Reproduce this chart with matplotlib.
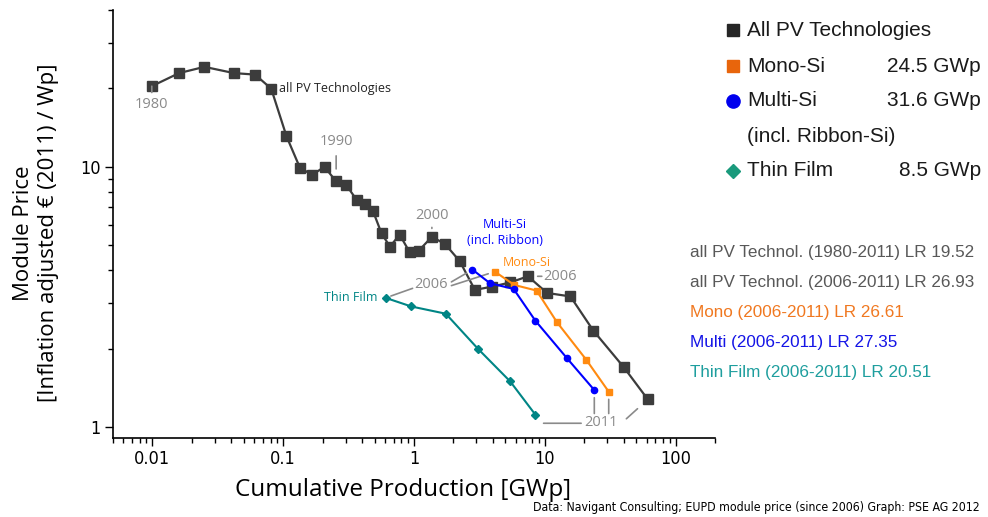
import matplotlib
matplotlib.use("Agg")
import matplotlib.pyplot as plt
from matplotlib.lines import Line2D
from matplotlib.ticker import LogLocator, FuncFormatter, NullFormatter

# cumulative production [GWp] and module price [EUR(2011)/Wp]
all_years = list(range(1980, 2012))
all_prod = [0.0099, 0.016, 0.025, 0.042, 0.061, 0.081, 0.106, 0.134, 0.166, 0.207,
            0.254, 0.303, 0.364, 0.421, 0.486, 0.565, 0.655, 0.777, 0.927, 1.09,
            1.37, 1.73, 2.24, 2.92, 3.98, 5.45, 7.43, 10.4, 15.7, 23.5, 40.2, 61.3]
all_price = [20.4, 22.9, 24.2, 22.9, 22.6, 19.95, 13.1, 9.94, 9.31, 10.0,
             8.79, 8.53, 7.47, 7.17, 6.76, 5.55, 4.94, 5.49, 4.70, 4.77,
             5.39, 5.05, 4.34, 3.37, 3.47, 3.60, 3.80, 3.28, 3.18, 2.35, 1.70, 1.28]

mono_prod = [4.15, 5.84, 8.65, 12.4, 20.7, 30.8]
mono_price = [3.96, 3.52, 3.35, 2.53, 1.82, 1.37]

multi_prod = [2.80, 3.82, 5.77, 8.45, 14.8, 23.9]
multi_price = [4.03, 3.57, 3.40, 2.57, 1.84, 1.39]

thin_prod = [0.607, 0.954, 1.75, 3.09, 5.44, 8.45]
thin_price = [3.14, 2.91, 2.73, 2.00, 1.50, 1.12]

legend_names = ["All PV Technologies", "Mono-Si", "Multi-Si", "(incl. Ribbon-Si)", "Thin Film"]
legend_values = ["", "24.5 GWp", "31.6 GWp", "", "8.5 GWp"]

lr_labels = ["all PV Technol. (1980-2011) LR 19.52",
             "all PV Technol. (2006-2011) LR 26.93",
             "Mono (2006-2011) LR 26.61",
             "Multi (2006-2011) LR 27.35",
             "Thin Film (2006-2011) LR 20.51"]

C_ALL = "#3c3c3c"
C_MONO = "#ff8a10"
C_MULTI = "#0000ff"
C_THIN = "#008585"
C_NOTE = "#8a8a8a"

ANN_FONT = ["Open Sans", "DejaVu Sans"]
NARROW = dict(family="DejaVu Sans", stretch="condensed")

fig = plt.figure(figsize=(9.88, 5.17), dpi=100)
ax = fig.add_axes([113 / 988, 1 - 438 / 517, (715 - 113) / 988, (438 - 10) / 517])

ax.plot(all_prod, all_price, color=C_ALL, lw=1.6, marker="s", ms=6.5, zorder=3)
ax.plot(mono_prod, mono_price, color=C_MONO, lw=1.5, marker="s", ms=4, zorder=4)
ax.plot(multi_prod, multi_price, color=C_MULTI, lw=1.5, marker="o", ms=4.5, zorder=4)
ax.plot(thin_prod, thin_price, color=C_THIN, lw=1.5, marker="D", ms=3.8, zorder=4)

ax.set_xscale("log")
ax.set_yscale("log")
ax.set_xlim(0.005, 200)
ax.set_ylim(0.91, 40)

for s in ("top", "right"):
    ax.spines[s].set_visible(False)
ax.spines["left"].set_linewidth(1.2)
ax.spines["bottom"].set_linewidth(1.2)

ax.xaxis.set_major_locator(LogLocator(base=10))
ax.xaxis.set_minor_locator(LogLocator(base=10, subs=range(2, 10)))
ax.xaxis.set_major_formatter(FuncFormatter(lambda v, p: f"{v:g}"))
ax.xaxis.set_minor_formatter(NullFormatter())
ax.yaxis.set_major_locator(LogLocator(base=10))
ax.yaxis.set_minor_locator(LogLocator(base=10, subs=range(2, 10)))
ax.yaxis.set_major_formatter(FuncFormatter(lambda v, p: f"{v:g}"))
ax.yaxis.set_minor_formatter(NullFormatter())
ax.tick_params(which="major", length=6, width=1, labelsize=13, direction="out", pad=3)
ax.tick_params(which="minor", length=3.5, width=1, direction="out")
for lab in ax.get_xticklabels() + ax.get_yticklabels():
    lab.set_fontfamily(NARROW["family"])
    lab.set_fontstretch(NARROW["stretch"])

ax.set_xlabel("Cumulative Production [GWp]", fontsize=17.5, family=ANN_FONT)
ax.xaxis.set_label_coords(0.482, -0.093)
fig.text(36 / 988, 1 - 233 / 517, "Module Price\n[Inflation adjusted \u20ac (2011) / Wp]",
         rotation=90, ha="center", va="center", fontsize=16, family=ANN_FONT,
         linespacing=1.3)

# in-plot annotations
line_kw = dict(arrowstyle="-", color=C_NOTE, lw=1.2)
note = dict(fontsize=9, family=ANN_FONT, textcoords="offset pixels")
year = dict(fontsize=10.5, family=ANN_FONT, textcoords="offset pixels", color=C_NOTE,
            ha="center", va="center")

ax.annotate("1980", (all_prod[0], all_price[0]), xytext=(0, -18),
            arrowprops=dict(shrinkA=1, shrinkB=5, **line_kw), **year)
ax.annotate("all PV Technologies", (all_prod[5], all_price[5]), xytext=(8, 0),
            ha="left", va="center", color="#222222", **note)
ax.annotate("1990", (all_prod[10], all_price[10]), xytext=(0, 40),
            arrowprops=dict(shrinkA=3, shrinkB=9, **line_kw), **year)
ax.annotate("2000", (all_prod[20], all_price[20]), xytext=(0, 21),
            arrowprops=dict(shrinkA=1, shrinkB=6, **line_kw), **year)
r06 = ax.annotate("2006", (all_prod[26], all_price[26]), xytext=(32, 0), **year)
ax.annotate("", (all_prod[26], all_price[26]), xytext=(0, 0.5), textcoords=r06,
            arrowprops=dict(shrinkA=1, shrinkB=7, **line_kw))

ax.annotate("Multi-Si\n(incl. Ribbon)", (multi_prod[0], multi_price[0]), xytext=(32, 37),
            ha="center", va="center", color=C_MULTI, linespacing=1.3, **note)
ax.annotate("Mono-Si", (mono_prod[0], mono_price[0]), xytext=(32, 9),
            ha="center", va="center", color=C_MONO, **note)
ax.annotate("Thin Film", (thin_prod[0], thin_price[0]), xytext=(-8, 0),
            ha="right", va="center", color=C_THIN, **note)

# 2006 starting points of the technology curves
t06 = ax.annotate("2006", (thin_prod[0], thin_price[0]), xytext=(45, 13), **year)
ax.annotate("", (thin_prod[0], thin_price[0]), xytext=(0, 0.3), textcoords=t06,
            arrowprops=dict(shrinkA=1, shrinkB=4, **line_kw))
for px, py, fy in ((multi_prod[0], multi_price[0], 0.7), (mono_prod[0], mono_price[0], 0.45)):
    ax.annotate("", (px, py), xytext=(1.12, fy), textcoords=t06,
                arrowprops=dict(shrinkA=0, shrinkB=5, **line_kw))

# 2011 end points
t11 = ax.annotate("2011", (thin_prod[-1], thin_price[-1]), xytext=(66, -8), **year)
ax.annotate("", (thin_prod[-1], 0.45), xycoords=("data", t11), xytext=(-0.1, 0.45),
            textcoords=t11, arrowprops=dict(shrinkA=0, shrinkB=6, **line_kw))
for px, py in ((multi_prod[-1], multi_price[-1]), (mono_prod[-1], mono_price[-1])):
    ax.annotate("", (px, py), xytext=(px, 1.1), textcoords=("data", t11),
                arrowprops=dict(shrinkA=0, shrinkB=5.5, **line_kw))
ax.annotate("", (all_prod[-1], all_price[-1]), xytext=(1.25, 0.75), textcoords=t11,
            arrowprops=dict(shrinkA=0, shrinkB=10, **line_kw))

# legend block on the right
leg_font = ["Liberation Sans", "DejaVu Sans"]
leg_markers = [("s", "#262626", 9), ("s", "#e8650c", 9), ("o", "#0000ee", 9.5), (None, None, 0),
               ("D", "#1a9a7c", 7)]
row_y = [30, 66, 101, 136, 171]
for (mk, mc, ms), name, val, yy in zip(leg_markers, legend_names, legend_values, row_y):
    yf = 1 - yy / 517
    if mk:
        fig.add_artist(Line2D([733 / 988], [yf], marker=mk, color=mc, ms=ms, ls="none",
                              transform=fig.transFigure))
    fig.text(747 / 988, yf, name, ha="left", va="center", fontsize=15, family=leg_font,
             color="#1a1a1a")
    if val:
        fig.text(981 / 988, yf, val, ha="right", va="center", fontsize=15, family=leg_font,
                 color="#1a1a1a")

lr_colors = ["#585858", "#585858", "#f07820", "#1414e6", "#1e9e9e"]
for i, (txt, col) in enumerate(zip(lr_labels, lr_colors)):
    fig.text(690 / 988, 1 - (252 + 30 * i) / 517, txt, ha="left", va="center",
             fontsize=12.3, family=leg_font, color=col)

fig.text(980 / 988, 1 - 507 / 517,
         "Data: Navigant Consulting; EUPD module price (since 2006) Graph: PSE AG 2012",
         ha="right", va="center", fontsize=8.8, **NARROW)

fig.savefig("out.png", dpi=100)
